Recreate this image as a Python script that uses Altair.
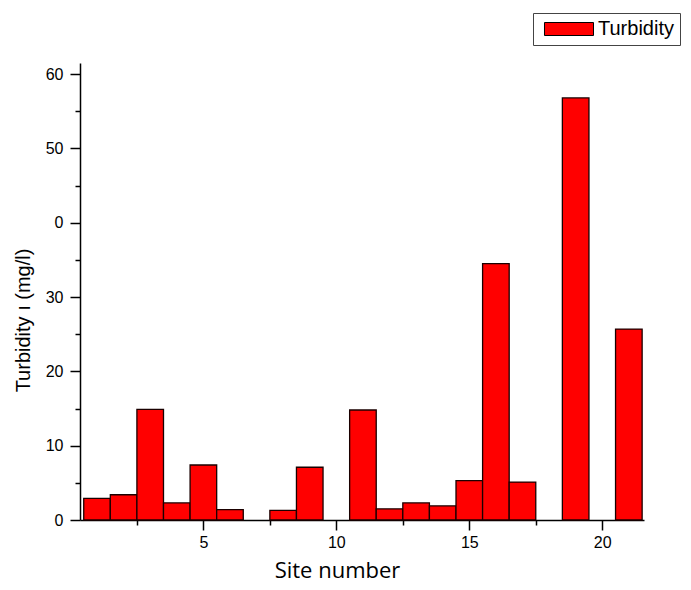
import json
import altair as alt
import pandas as pd

# ---- data ----
sites = [1, 2, 3, 4, 5, 6, 8, 9, 11, 12, 13, 14, 15, 16, 17, 19, 21]
turbidity = [2.9, 3.4, 14.9, 2.3, 7.4, 1.4, 1.3, 7.1, 14.8, 1.5, 2.3, 1.9, 5.3, 34.5, 5.1, 56.8, 25.7]
series_name = "Turbidity"

x_tick_values = [2.5, 5, 7.5, 10, 12.5, 15, 17.5, 20]
x_tick_labels = ["", "5", "", "10", "", "15", "", "20"]
y_tick_values = [0, 5, 10, 15, 20, 25, 30, 35, 40, 45, 50, 55, 60]
y_tick_labels = ["0", "", "10", "", "20", "", "30", "", "0", "", "50", "", "60"]

x_title = "Site number"
y_title = "Turbidity ı (mg/l)"

df = pd.DataFrame({"site": sites, "turbidity": turbidity, "series": series_name})


def label_expr(values, labels):
    return (f"indexof({json.dumps(values)}, datum.value) >= 0 ? "
            f"{json.dumps(labels)}[indexof({json.dumps(values)}, datum.value)] : ''")


FONT = "Liberation Sans"

x_axis = alt.Axis(
    values=x_tick_values,
    labelExpr=label_expr(x_tick_values, x_tick_labels),
    grid=False,
    domainColor="black",
    domainWidth=1.5,
    tickColor="black",
    tickWidth=1.5,
    tickSize={"condition": {"test": "datum.value % 5 === 0", "value": 10}, "value": 5},
    labelFont=FONT,
    labelFontSize=16,
    labelColor="black",
    labelPadding=4,
    labelFlush=False,
    labelOverlap=False,
    title=x_title,
    titleFont="Open Sans",
    titleFontSize=22,
    titleFontWeight="normal",
    titleColor="black",
    titleX=257,
    titleY=57,
    titleBaseline="alphabetic",
    titleAlign="center",
)

y_axis = alt.Axis(
    values=y_tick_values,
    labelExpr=label_expr(y_tick_values, y_tick_labels),
    grid=False,
    domainColor="black",
    domainWidth=1.5,
    tickColor="black",
    tickWidth=1.5,
    tickSize={"condition": {"test": "datum.value % 10 === 0", "value": 10}, "value": 5},
    labelFont=FONT,
    labelFontSize=16,
    labelColor="black",
    labelPadding=7,
    labelFlush=False,
    labelOverlap=False,
    title=y_title,
    titleFont=FONT,
    titleFontSize=20,
    titleFontWeight="normal",
    titleColor="black",
    titleX=-51,
    titleY=257,
    titleAngle=270,
    titleBaseline="alphabetic",
    titleAlign="center",
)

legend = alt.Legend(
    title=None,
    orient="none",
    legendX=453,
    legendY=-50,
    padding=6,
    strokeColor="#444444",
    fillColor="white",
    symbolType="M-3.77,-1H3.77V1H-3.77Z",
    symbolSize=169,
    symbolStrokeColor="black",
    symbolStrokeWidth=1,
    symbolOffset=20,
    labelOffset=19,
    labelFont=FONT,
    labelFontSize=20,
    labelColor="black",
)

chart = (
    alt.Chart(df)
    .transform_calculate(x0="datum.site - 0.5", x1="datum.site + 0.5")
    .mark_bar(stroke="#1a0000", strokeWidth=1.3, opacity=1)
    .encode(
        x=alt.X("x0:Q", scale=alt.Scale(domain=[0.36, 21.57], nice=False, zero=False), axis=x_axis),
        x2="x1:Q",
        y=alt.Y("turbidity:Q", scale=alt.Scale(domain=[0, 61.5], nice=False), axis=y_axis),
        y2=alt.datum(0),
        color=alt.Color("series:N", scale=alt.Scale(domain=[series_name], range=["#ff0000"]), legend=legend),
    )
    .properties(
        width=564,
        height=457,
        autosize=alt.AutoSizeParams(type="none"),
        padding={"left": 72, "top": 55, "right": 39, "bottom": 62},
        background="white",
    )
    .configure_view(stroke=None)
)

chart.save("out.html", embed_options={"renderer": "svg", "actions": False})
